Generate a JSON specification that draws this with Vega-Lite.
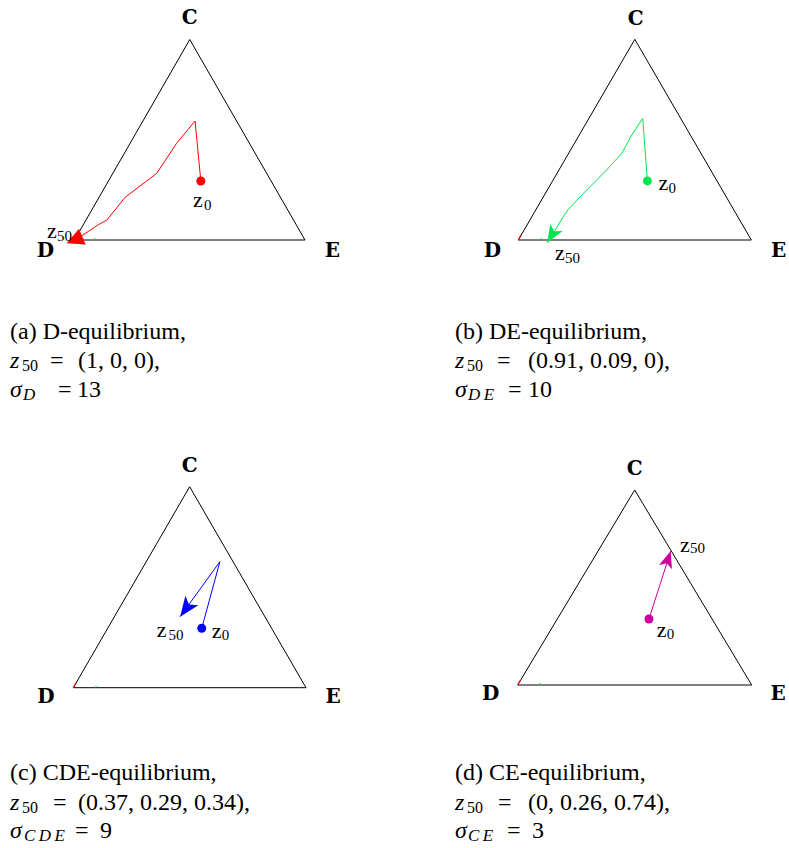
{
"$schema": "https://vega.github.io/schema/vega-lite/v6.json",
"padding": 0,
"background": "white",
"spacing": 0,
"config": {"font": "Times New Roman, Liberation Serif, Times, serif", "view": {"stroke": null}, "text": {"font": "Times New Roman, Liberation Serif, Times, serif", "fontSize": 24, "align": "left", "baseline": "alphabetic", "color": "#000000"}, "concat": {"spacing": 0}},
"resolve": {"scale": {"x": "independent", "y": "independent", "color": "independent"}},
"datasets": {
"tri": [{"k":0,"v":"D","x":0,"y":0},{"k":1,"v":"E","x":1,"y":0},{"k":2,"v":"C","x":0.5,"y":0.866},{"k":3,"v":"D","x":0,"y":0}],
"traj": [
{"p":"a","k":0,"x":0.548,"y":0.255},{"p":"a","k":1,"x":0.523,"y":0.514},{"p":"a","k":2,"x":0.443,"y":0.418},{"p":"a","k":3,"x":0.357,"y":0.288},{"p":"a","k":4,"x":0.219,"y":0.184},{"p":"a","k":5,"x":0.176,"y":0.130},{"p":"a","k":6,"x":0.140,"y":0.086},{"p":"a","k":7,"x":0.102,"y":0.065},{"p":"a","k":8,"x":0.037,"y":0.022},{"p":"a","k":9,"x":0,"y":0},
{"p":"b","k":0,"x":0.554,"y":0.255},{"p":"b","k":1,"x":0.534,"y":0.525},{"p":"b","k":2,"x":0.487,"y":0.453},{"p":"b","k":3,"x":0.444,"y":0.374},{"p":"b","k":4,"x":0.379,"y":0.302},{"p":"b","k":5,"x":0.294,"y":0.216},{"p":"b","k":6,"x":0.215,"y":0.133},{"p":"b","k":7,"x":0.193,"y":0.101},{"p":"b","k":8,"x":0.158,"y":0.043},{"p":"b","k":9,"x":0.124,"y":-0.012},
{"p":"c","k":0,"x":0.552,"y":0.256},{"p":"c","k":1,"x":0.630,"y":0.543},{"p":"c","k":2,"x":0.459,"y":0.306},
{"p":"d","k":0,"x":0.561,"y":0.293},{"p":"d","k":1,"x":0.654,"y":0.595}],
"pts": [
{"p":"a","kind":"z0","x":0.548,"y":0.255,"lab":"z","sub":"0"},{"p":"a","kind":"z50","x":0,"y":0,"lab":"z","sub":"50"},
{"p":"b","kind":"z0","x":0.554,"y":0.255,"lab":"z","sub":"0"},{"p":"b","kind":"z50","x":0.124,"y":-0.012,"lab":"z","sub":"50"},
{"p":"c","kind":"z0","x":0.552,"y":0.256,"lab":"z","sub":"0"},{"p":"c","kind":"z50","x":0.459,"y":0.306,"lab":"z","sub":"50"},
{"p":"d","kind":"z0","x":0.561,"y":0.293,"lab":"z","sub":"0"},{"p":"d","kind":"z50","x":0.654,"y":0.595,"lab":"z","sub":"50"}],
"ticks": [
{"p":"a","c":"g","k":0,"x":0.086,"y":0},{"p":"a","c":"g","k":1,"x":0.088,"y":0.008},
{"p":"b","c":"r","k":0,"x":0,"y":0},{"p":"b","c":"r","k":1,"x":0.012,"y":0.021},{"p":"b","c":"g","k":0,"x":0.097,"y":0},{"p":"b","c":"g","k":1,"x":0.099,"y":0.008},
{"p":"c","c":"r","k":0,"x":0,"y":0},{"p":"c","c":"r","k":1,"x":0.012,"y":0.021},{"p":"c","c":"g","k":0,"x":0.096,"y":0},{"p":"c","c":"g","k":1,"x":0.098,"y":0.008},
{"p":"d","c":"r","k":0,"x":0,"y":0},{"p":"d","c":"r","k":1,"x":0.012,"y":0.021},{"p":"d","c":"g","k":0,"x":0.095,"y":0},{"p":"d","c":"g","k":1,"x":0.097,"y":0.008}]
},
"vconcat": [
{"hconcat": [
{"width":394,"height":424,
"layer":[
{"encoding":{"x":{"field":"x","type":"quantitative","axis":null,"scale":{"domain":[-0.32321,1.38612],"nice":false,"zero":false}},"y":{"field":"y","type":"quantitative","axis":null,"scale":{"domain":[-0.79482,1.03672],"nice":false,"zero":false}}},
"layer":[
{"data":{"name":"tri"},"mark":{"type":"line","color":"#000000","strokeWidth":1},"encoding":{"order":{"field":"k","type":"quantitative"}}},
{"data":{"name":"ticks"},"transform":[{"filter":"datum.p == 'a'"}],"mark":{"type":"line","strokeWidth":1.2},"encoding":{"order":{"field":"k","type":"quantitative"},"color":{"field":"c","type":"nominal","scale":{"domain":["r","g"],"range":["#ff0000","#00e64d"]},"legend":null}}},
{"data":{"name":"traj"},"transform":[{"filter":"datum.p == 'a'"}],"mark":{"type":"line","color":"#ff0000","strokeWidth":1},"encoding":{"order":{"field":"k","type":"quantitative"}}},
{"data":{"name":"pts"},"transform":[{"filter":"datum.p == 'a' && datum.kind == 'z0'"}],"mark":{"type":"point","shape":"circle","filled":true,"size":80,"opacity":1,"color":"#ff0000"}},
{"data":{"name":"pts"},"transform":[{"filter":"datum.p == 'a' && datum.kind == 'z50'"}],"mark":{"type":"point","shape":"M0,-1L1,1L-1,1Z","filled":true,"size":289,"angle":247,"opacity":1,"color":"#ff0000"}},
{"data":{"name":"tri"},"transform":[{"filter":"datum.k == 2"}],"mark":{"type":"text","font":"DejaVu Serif","fontWeight":"bold","fontSize":20,"align":"center","dx":0,"dy":-15.5},"encoding":{"text":{"field":"v"}}},
{"data":{"name":"tri"},"transform":[{"filter":"datum.k == 0"}],"mark":{"type":"text","font":"DejaVu Serif","fontWeight":"bold","fontSize":20,"align":"center","dx":-29,"dy":17},"encoding":{"text":{"field":"v"}}},
{"data":{"name":"tri"},"transform":[{"filter":"datum.k == 1"}],"mark":{"type":"text","font":"DejaVu Serif","fontWeight":"bold","fontSize":20,"align":"center","dx":27.5,"dy":17},"encoding":{"text":{"field":"v"}}},
{"data":{"name":"pts"},"transform":[{"filter":"datum.p == 'a' && datum.kind == 'z0'"}],"mark":{"type":"text","fontSize":22,"dx":-7.7,"dy":26},"encoding":{"text":{"field":"lab"}}},
{"data":{"name":"pts"},"transform":[{"filter":"datum.p == 'a' && datum.kind == 'z0'"}],"mark":{"type":"text","fontSize":15,"dx":3.3,"dy":29},"encoding":{"text":{"field":"sub"}}},
{"data":{"name":"pts"},"transform":[{"filter":"datum.p == 'a' && datum.kind == 'z50'"}],"mark":{"type":"text","fontSize":22,"dx":-27.5,"dy":-2},"encoding":{"text":{"field":"lab"}}},
{"data":{"name":"pts"},"transform":[{"filter":"datum.p == 'a' && datum.kind == 'z50'"}],"mark":{"type":"text","fontSize":15,"dx":-17.5,"dy":1},"encoding":{"text":{"field":"sub"}}}
]},
{"encoding":{"x":{"datum":-0.27983,"type":"quantitative","axis":null,"scale":{"domain":[-0.32321,1.38612],"nice":false,"zero":false}},"y":{"datum":-0.55292,"type":"quantitative","axis":null,"scale":{"domain":[-0.79482,1.03672],"nice":false,"zero":false}}},
"layer":[
{"data":{"values":[{"t":"(a) D-equilibrium,"}]},"mark":{"type":"text","dx":0},"encoding":{"y":{"datum":-0.42765,"type":"quantitative"},"text":{"field":"t"}}},
{"data":{"values":[{"t":"z"}]},"mark":{"type":"text","fontStyle":"italic","dx":0},"encoding":{"text":{"field":"t"}}},
{"data":{"values":[{"t":"50"}]},"mark":{"type":"text","fontSize":16,"dx":12,"dy":3},"encoding":{"text":{"field":"t"}}},
{"data":{"values":[{"t":"="}]},"mark":{"type":"text","dx":40},"encoding":{"text":{"field":"t"}}},
{"data":{"values":[{"t":"(1, 0, 0),"}]},"mark":{"type":"text","dx":68},"encoding":{"text":{"field":"t"}}},
{"data":{"values":[{"t":"σ"}]},"mark":{"type":"text","fontStyle":"italic","dx":0},"encoding":{"y":{"datum":-0.67819,"type":"quantitative"},"text":{"field":"t"}}},
{"data":{"values":[{"t":"D"}]},"mark":{"type":"text","fontStyle":"italic","fontSize":17,"dx":13,"dy":3},"encoding":{"y":{"datum":-0.67819,"type":"quantitative"},"text":{"field":"t"}}},
{"data":{"values":[{"t":"="}]},"mark":{"type":"text","dx":48},"encoding":{"y":{"datum":-0.67819,"type":"quantitative"},"text":{"field":"t"}}},
{"data":{"values":[{"t":"13"}]},"mark":{"type":"text","dx":67},"encoding":{"y":{"datum":-0.67819,"type":"quantitative"},"text":{"field":"t"}}}
]}
]},
{"width":395,"height":424,
"layer":[
{"encoding":{"x":{"field":"x","type":"quantitative","axis":null,"scale":{"domain":[-0.53348,1.16180],"nice":false,"zero":false}},"y":{"field":"y","type":"quantitative","axis":null,"scale":{"domain":[-0.79413,1.03582],"nice":false,"zero":false}}},
"layer":[
{"data":{"name":"tri"},"mark":{"type":"line","color":"#000000","strokeWidth":1},"encoding":{"order":{"field":"k","type":"quantitative"}}},
{"data":{"name":"ticks"},"transform":[{"filter":"datum.p == 'b'"}],"mark":{"type":"line","strokeWidth":1.2},"encoding":{"order":{"field":"k","type":"quantitative"},"color":{"field":"c","type":"nominal","scale":{"domain":["r","g"],"range":["#ff0000","#00e64d"]},"legend":null}}},
{"data":{"name":"traj"},"transform":[{"filter":"datum.p == 'b'"}],"mark":{"type":"line","color":"#00e64d","strokeWidth":1},"encoding":{"order":{"field":"k","type":"quantitative"}}},
{"data":{"name":"pts"},"transform":[{"filter":"datum.p == 'b' && datum.kind == 'z0'"}],"mark":{"type":"point","shape":"circle","filled":true,"size":80,"opacity":1,"color":"#00e64d"}},
{"data":{"name":"pts"},"transform":[{"filter":"datum.p == 'b' && datum.kind == 'z50'"}],"mark":{"type":"point","shape":"M0,0L0.8,2L0,1.5L-0.8,2Z","filled":true,"size":324,"angle":211,"opacity":1,"color":"#00e64d"}},
{"data":{"name":"tri"},"transform":[{"filter":"datum.k == 2"}],"mark":{"type":"text","font":"DejaVu Serif","fontWeight":"bold","fontSize":20,"align":"center","dx":1,"dy":-14.5},"encoding":{"text":{"field":"v"}}},
{"data":{"name":"tri"},"transform":[{"filter":"datum.k == 0"}],"mark":{"type":"text","font":"DejaVu Serif","fontWeight":"bold","fontSize":20,"align":"center","dx":-25.8,"dy":16.7},"encoding":{"text":{"field":"v"}}},
{"data":{"name":"tri"},"transform":[{"filter":"datum.k == 1"}],"mark":{"type":"text","font":"DejaVu Serif","fontWeight":"bold","fontSize":20,"align":"center","dx":27.2,"dy":16.7},"encoding":{"text":{"field":"v"}}},
{"data":{"name":"pts"},"transform":[{"filter":"datum.p == 'b' && datum.kind == 'z0'"}],"mark":{"type":"text","fontSize":22,"dx":11,"dy":9},"encoding":{"text":{"field":"lab"}}},
{"data":{"name":"pts"},"transform":[{"filter":"datum.p == 'b' && datum.kind == 'z0'"}],"mark":{"type":"text","fontSize":15,"dx":21,"dy":11.7},"encoding":{"text":{"field":"sub"}}},
{"data":{"name":"pts"},"transform":[{"filter":"datum.p == 'b' && datum.kind == 'z50'"}],"mark":{"type":"text","fontSize":22,"dx":7.7,"dy":17.3},"encoding":{"text":{"field":"lab"}}},
{"data":{"name":"pts"},"transform":[{"filter":"datum.p == 'b' && datum.kind == 'z50'"}],"mark":{"type":"text","fontSize":15,"dx":17.7,"dy":20.3},"encoding":{"text":{"field":"sub"}}}
]},
{"encoding":{"x":{"datum":-0.27167,"type":"quantitative","axis":null,"scale":{"domain":[-0.53348,1.16180],"nice":false,"zero":false}},"y":{"datum":-0.55244,"type":"quantitative","axis":null,"scale":{"domain":[-0.79413,1.03582],"nice":false,"zero":false}}},
"layer":[
{"data":{"values":[{"t":"(b) DE-equilibrium,"}]},"mark":{"type":"text","dx":0},"encoding":{"y":{"datum":-0.42728,"type":"quantitative"},"text":{"field":"t"}}},
{"data":{"values":[{"t":"z"}]},"mark":{"type":"text","fontStyle":"italic","dx":0},"encoding":{"text":{"field":"t"}}},
{"data":{"values":[{"t":"50"}]},"mark":{"type":"text","fontSize":16,"dx":12,"dy":3},"encoding":{"text":{"field":"t"}}},
{"data":{"values":[{"t":"="}]},"mark":{"type":"text","dx":42},"encoding":{"text":{"field":"t"}}},
{"data":{"values":[{"t":"(0.91, 0.09, 0),"}]},"mark":{"type":"text","dx":73},"encoding":{"text":{"field":"t"}}},
{"data":{"values":[{"t":"σ"}]},"mark":{"type":"text","fontStyle":"italic","dx":0},"encoding":{"y":{"datum":-0.67760,"type":"quantitative"},"text":{"field":"t"}}},
{"data":{"values":[{"t":"D\u2009E"}]},"mark":{"type":"text","fontStyle":"italic","fontSize":17,"dx":13,"dy":3},"encoding":{"y":{"datum":-0.67760,"type":"quantitative"},"text":{"field":"t"}}},
{"data":{"values":[{"t":"="}]},"mark":{"type":"text","dx":53},"encoding":{"y":{"datum":-0.67760,"type":"quantitative"},"text":{"field":"t"}}},
{"data":{"values":[{"t":"10"}]},"mark":{"type":"text","dx":73},"encoding":{"y":{"datum":-0.67760,"type":"quantitative"},"text":{"field":"t"}}}
]}
]}
], "spacing": 0, "resolve": {"scale": {"x": "independent", "y": "independent", "color": "independent"}}},
{"hconcat": [
{"width":394,"height":424,
"layer":[
{"encoding":{"x":{"field":"x","type":"quantitative","axis":null,"scale":{"domain":[-0.31500,1.37817],"nice":false,"zero":false}},"y":{"field":"y","type":"quantitative","axis":null,"scale":{"domain":[-0.69065,1.13615],"nice":false,"zero":false}}},
"layer":[
{"data":{"name":"tri"},"mark":{"type":"line","color":"#000000","strokeWidth":1},"encoding":{"order":{"field":"k","type":"quantitative"}}},
{"data":{"name":"ticks"},"transform":[{"filter":"datum.p == 'c'"}],"mark":{"type":"line","strokeWidth":1.2},"encoding":{"order":{"field":"k","type":"quantitative"},"color":{"field":"c","type":"nominal","scale":{"domain":["r","g"],"range":["#ff0000","#00e64d"]},"legend":null}}},
{"data":{"name":"traj"},"transform":[{"filter":"datum.p == 'c'"}],"mark":{"type":"line","color":"#0000ff","strokeWidth":1},"encoding":{"order":{"field":"k","type":"quantitative"}}},
{"data":{"name":"pts"},"transform":[{"filter":"datum.p == 'c' && datum.kind == 'z0'"}],"mark":{"type":"point","shape":"circle","filled":true,"size":80,"opacity":1,"color":"#0000ff"}},
{"data":{"name":"pts"},"transform":[{"filter":"datum.p == 'c' && datum.kind == 'z50'"}],"mark":{"type":"point","shape":"M0,0L0.8,2L0,1.5L-0.8,2Z","filled":true,"size":400,"angle":216,"opacity":1,"color":"#0000ff"}},
{"data":{"name":"tri"},"transform":[{"filter":"datum.k == 2"}],"mark":{"type":"text","font":"DejaVu Serif","fontWeight":"bold","fontSize":20,"align":"center","dx":0,"dy":-15},"encoding":{"text":{"field":"v"}}},
{"data":{"name":"tri"},"transform":[{"filter":"datum.k == 0"}],"mark":{"type":"text","font":"DejaVu Serif","fontWeight":"bold","fontSize":20,"align":"center","dx":-27.3,"dy":15.5},"encoding":{"text":{"field":"v"}}},
{"data":{"name":"tri"},"transform":[{"filter":"datum.k == 1"}],"mark":{"type":"text","font":"DejaVu Serif","fontWeight":"bold","fontSize":20,"align":"center","dx":27,"dy":15.5},"encoding":{"text":{"field":"v"}}},
{"data":{"name":"pts"},"transform":[{"filter":"datum.p == 'c' && datum.kind == 'z0'"}],"mark":{"type":"text","fontSize":22,"dx":10,"dy":10},"encoding":{"text":{"field":"lab"}}},
{"data":{"name":"pts"},"transform":[{"filter":"datum.p == 'c' && datum.kind == 'z0'"}],"mark":{"type":"text","fontSize":15,"dx":20,"dy":11.7},"encoding":{"text":{"field":"sub"}}},
{"data":{"name":"pts"},"transform":[{"filter":"datum.p == 'c' && datum.kind == 'z50'"}],"mark":{"type":"text","fontSize":22,"dx":-23.3,"dy":20},"encoding":{"text":{"field":"lab"}}},
{"data":{"name":"pts"},"transform":[{"filter":"datum.p == 'c' && datum.kind == 'z50'"}],"mark":{"type":"text","fontSize":15,"dx":-11.7,"dy":23.3},"encoding":{"text":{"field":"sub"}}}
]},
{"encoding":{"x":{"datum":-0.27202,"type":"quantitative","axis":null,"scale":{"domain":[-0.31500,1.37817],"nice":false,"zero":false}},"y":{"datum":-0.52693,"type":"quantitative","axis":null,"scale":{"domain":[-0.69065,1.13615],"nice":false,"zero":false}}},
"layer":[
{"data":{"values":[{"t":"(c) CDE-equilibrium,"}]},"mark":{"type":"text","dx":0},"encoding":{"y":{"datum":-0.39767,"type":"quantitative"},"text":{"field":"t"}}},
{"data":{"values":[{"t":"z"}]},"mark":{"type":"text","fontStyle":"italic","dx":0},"encoding":{"text":{"field":"t"}}},
{"data":{"values":[{"t":"50"}]},"mark":{"type":"text","fontSize":16,"dx":12,"dy":3},"encoding":{"text":{"field":"t"}}},
{"data":{"values":[{"t":"="}]},"mark":{"type":"text","dx":43},"encoding":{"text":{"field":"t"}}},
{"data":{"values":[{"t":"(0.37, 0.29, 0.34),"}]},"mark":{"type":"text","dx":68},"encoding":{"text":{"field":"t"}}},
{"data":{"values":[{"t":"σ"}]},"mark":{"type":"text","fontStyle":"italic","dx":0},"encoding":{"y":{"datum":-0.64757,"type":"quantitative"},"text":{"field":"t"}}},
{"data":{"values":[{"t":"C\u2009D\u2009E"}]},"mark":{"type":"text","fontStyle":"italic","fontSize":17,"dx":14,"dy":3},"encoding":{"y":{"datum":-0.64757,"type":"quantitative"},"text":{"field":"t"}}},
{"data":{"values":[{"t":"="}]},"mark":{"type":"text","dx":65},"encoding":{"y":{"datum":-0.64757,"type":"quantitative"},"text":{"field":"t"}}},
{"data":{"values":[{"t":"9"}]},"mark":{"type":"text","dx":90},"encoding":{"y":{"datum":-0.64757,"type":"quantitative"},"text":{"field":"t"}}}
]}
]},
{"width":395,"height":424,
"layer":[
{"encoding":{"x":{"field":"x","type":"quantitative","axis":null,"scale":{"domain":[-0.52863,1.15940],"nice":false,"zero":false}},"y":{"field":"y","type":"quantitative","axis":null,"scale":{"domain":[-0.72380,1.15897],"nice":false,"zero":false}}},
"layer":[
{"data":{"name":"tri"},"mark":{"type":"line","color":"#000000","strokeWidth":1},"encoding":{"order":{"field":"k","type":"quantitative"}}},
{"data":{"name":"ticks"},"transform":[{"filter":"datum.p == 'd'"}],"mark":{"type":"line","strokeWidth":1.2},"encoding":{"order":{"field":"k","type":"quantitative"},"color":{"field":"c","type":"nominal","scale":{"domain":["r","g"],"range":["#ff0000","#00e64d"]},"legend":null}}},
{"data":{"name":"traj"},"transform":[{"filter":"datum.p == 'd'"}],"mark":{"type":"line","color":"#cc00a0","strokeWidth":1},"encoding":{"order":{"field":"k","type":"quantitative"}}},
{"data":{"name":"pts"},"transform":[{"filter":"datum.p == 'd' && datum.kind == 'z0'"}],"mark":{"type":"point","shape":"circle","filled":true,"size":80,"opacity":1,"color":"#cc00a0"}},
{"data":{"name":"pts"},"transform":[{"filter":"datum.p == 'd' && datum.kind == 'z50'"}],"mark":{"type":"point","shape":"M0,0L0.8,2L0,1.5L-0.8,2Z","filled":true,"size":289,"angle":18,"opacity":1,"color":"#cc00a0"}},
{"data":{"name":"tri"},"transform":[{"filter":"datum.k == 2"}],"mark":{"type":"text","font":"DejaVu Serif","fontWeight":"bold","fontSize":20,"align":"center","dx":0,"dy":-15},"encoding":{"text":{"field":"v"}}},
{"data":{"name":"tri"},"transform":[{"filter":"datum.k == 0"}],"mark":{"type":"text","font":"DejaVu Serif","fontWeight":"bold","fontSize":20,"align":"center","dx":-27,"dy":15},"encoding":{"text":{"field":"v"}}},
{"data":{"name":"tri"},"transform":[{"filter":"datum.k == 1"}],"mark":{"type":"text","font":"DejaVu Serif","fontWeight":"bold","fontSize":20,"align":"center","dx":26.3,"dy":15},"encoding":{"text":{"field":"v"}}},
{"data":{"name":"pts"},"transform":[{"filter":"datum.p == 'd' && datum.kind == 'z0'"}],"mark":{"type":"text","fontSize":22,"dx":7.7,"dy":17.7},"encoding":{"text":{"field":"lab"}}},
{"data":{"name":"pts"},"transform":[{"filter":"datum.p == 'd' && datum.kind == 'z0'"}],"mark":{"type":"text","fontSize":15,"dx":17.7,"dy":20.3},"encoding":{"text":{"field":"sub"}}},
{"data":{"name":"pts"},"transform":[{"filter":"datum.p == 'd' && datum.kind == 'z50'"}],"mark":{"type":"text","fontSize":22,"dx":9.3,"dy":0.7},"encoding":{"text":{"field":"lab"}}},
{"data":{"name":"pts"},"transform":[{"filter":"datum.p == 'd' && datum.kind == 'z50'"}],"mark":{"type":"text","fontSize":15,"dx":19.3,"dy":2.3},"encoding":{"text":{"field":"sub"}}}
]},
{"encoding":{"x":{"datum":-0.26795,"type":"quantitative","axis":null,"scale":{"domain":[-0.52863,1.15940],"nice":false,"zero":false}},"y":{"datum":-0.55506,"type":"quantitative","axis":null,"scale":{"domain":[-0.72380,1.15897],"nice":false,"zero":false}}},
"layer":[
{"data":{"values":[{"t":"(d) CE-equilibrium,"}]},"mark":{"type":"text","dx":0},"encoding":{"y":{"datum":-0.42185,"type":"quantitative"},"text":{"field":"t"}}},
{"data":{"values":[{"t":"z"}]},"mark":{"type":"text","fontStyle":"italic","dx":0},"encoding":{"text":{"field":"t"}}},
{"data":{"values":[{"t":"50"}]},"mark":{"type":"text","fontSize":16,"dx":12,"dy":3},"encoding":{"text":{"field":"t"}}},
{"data":{"values":[{"t":"="}]},"mark":{"type":"text","dx":43},"encoding":{"text":{"field":"t"}}},
{"data":{"values":[{"t":"(0, 0.26, 0.74),"}]},"mark":{"type":"text","dx":73},"encoding":{"text":{"field":"t"}}},
{"data":{"values":[{"t":"σ"}]},"mark":{"type":"text","fontStyle":"italic","dx":0},"encoding":{"y":{"datum":-0.67940,"type":"quantitative"},"text":{"field":"t"}}},
{"data":{"values":[{"t":"C\u2009E"}]},"mark":{"type":"text","fontStyle":"italic","fontSize":17,"dx":13,"dy":3},"encoding":{"y":{"datum":-0.67940,"type":"quantitative"},"text":{"field":"t"}}},
{"data":{"values":[{"t":"="}]},"mark":{"type":"text","dx":52},"encoding":{"y":{"datum":-0.67940,"type":"quantitative"},"text":{"field":"t"}}},
{"data":{"values":[{"t":"3"}]},"mark":{"type":"text","dx":77},"encoding":{"y":{"datum":-0.67940,"type":"quantitative"},"text":{"field":"t"}}}
]}
]}
], "spacing": 0, "resolve": {"scale": {"x": "independent", "y": "independent", "color": "independent"}}}
]
}
